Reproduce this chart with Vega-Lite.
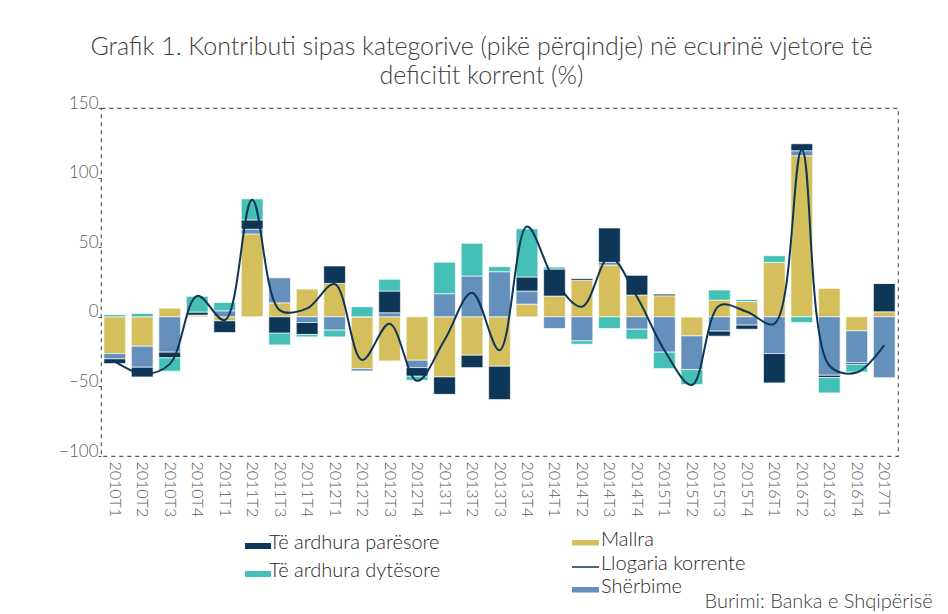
{
  "$schema": "https://vega.github.io/schema/vega-lite/v6.json",
  "width": 797,
  "height": 348,
  "autosize": {"type": "none"},
  "padding": {"left": 101, "top": 108, "right": 50, "bottom": 158},
  "background": "white",
  "config": {
    "font": "Lato",
    "view": {"stroke": "#595959", "strokeDash": [4, 4], "strokeWidth": 1.2},
    "axis": {"labelFont": "Lato", "titleFont": "Lato"},
    "legend": {"labelFont": "Lato"}
  },
  "title": {
    "text": ["Grafik 1. Kontributi sipas kategorive (pikë përqindje) në ecurinë vjetore të", "deficitit korrent (%)"],
    "font": "Lato",
    "fontSize": 25,
    "fontWeight": 300,
    "color": "#404040",
    "anchor": "middle",
    "dx": -18,
    "lineHeight": 29,
    "offset": 5
  },
  "datasets": {
    "bars": [
      {"q": "2010T1", "cat": "Mallra", "v": -26.4}, {"q": "2010T1", "cat": "Shërbime", "v": -3.8}, {"q": "2010T1", "cat": "Të ardhura parësore", "v": -3.4}, {"q": "2010T1", "cat": "Të ardhura dytësore", "v": 1.5},
      {"q": "2010T2", "cat": "Mallra", "v": -21.1}, {"q": "2010T2", "cat": "Shërbime", "v": -15.1}, {"q": "2010T2", "cat": "Të ardhura parësore", "v": -7.0}, {"q": "2010T2", "cat": "Të ardhura dytësore", "v": 2.4},
      {"q": "2010T3", "cat": "Mallra", "v": 6.2}, {"q": "2010T3", "cat": "Shërbime", "v": -25.4}, {"q": "2010T3", "cat": "Të ardhura parësore", "v": -4.1}, {"q": "2010T3", "cat": "Të ardhura dytësore", "v": -9.6},
      {"q": "2010T4", "cat": "Mallra", "v": 1.2}, {"q": "2010T4", "cat": "Shërbime", "v": 0}, {"q": "2010T4", "cat": "Të ardhura parësore", "v": 2.2}, {"q": "2010T4", "cat": "Të ardhura dytësore", "v": 11.3},
      {"q": "2011T1", "cat": "Mallra", "v": -2.9}, {"q": "2011T1", "cat": "Shërbime", "v": 4.3}, {"q": "2011T1", "cat": "Të ardhura parësore", "v": -8.4}, {"q": "2011T1", "cat": "Të ardhura dytësore", "v": 6.0},
      {"q": "2011T2", "cat": "Mallra", "v": 59.5}, {"q": "2011T2", "cat": "Shërbime", "v": 3.4}, {"q": "2011T2", "cat": "Të ardhura parësore", "v": 6.7}, {"q": "2011T2", "cat": "Të ardhura dytësore", "v": 15.1},
      {"q": "2011T3", "cat": "Mallra", "v": 10.0}, {"q": "2011T3", "cat": "Shërbime", "v": 18.0}, {"q": "2011T3", "cat": "Të ardhura parësore", "v": -11.8}, {"q": "2011T3", "cat": "Të ardhura dytësore", "v": -8.4},
      {"q": "2011T4", "cat": "Mallra", "v": 19.9}, {"q": "2011T4", "cat": "Shërbime", "v": -4.1}, {"q": "2011T4", "cat": "Të ardhura parësore", "v": -8.6}, {"q": "2011T4", "cat": "Të ardhura dytësore", "v": -1.7},
      {"q": "2012T1", "cat": "Mallra", "v": 24.0}, {"q": "2012T1", "cat": "Shërbime", "v": -9.6}, {"q": "2012T1", "cat": "Të ardhura parësore", "v": 12.5}, {"q": "2012T1", "cat": "Të ardhura dytësore", "v": -4.8},
      {"q": "2012T2", "cat": "Mallra", "v": -37.2}, {"q": "2012T2", "cat": "Shërbime", "v": -1.7}, {"q": "2012T2", "cat": "Të ardhura parësore", "v": 0}, {"q": "2012T2", "cat": "Të ardhura dytësore", "v": 7.2},
      {"q": "2012T3", "cat": "Mallra", "v": -31.7}, {"q": "2012T3", "cat": "Shërbime", "v": 2.9}, {"q": "2012T3", "cat": "Të ardhura parësore", "v": 15.6}, {"q": "2012T3", "cat": "Të ardhura dytësore", "v": 8.4},
      {"q": "2012T4", "cat": "Mallra", "v": -31.2}, {"q": "2012T4", "cat": "Shërbime", "v": -5.3}, {"q": "2012T4", "cat": "Të ardhura parësore", "v": -6.2}, {"q": "2012T4", "cat": "Të ardhura dytësore", "v": -2.9},
      {"q": "2013T1", "cat": "Mallra", "v": -43.2}, {"q": "2013T1", "cat": "Shërbime", "v": 16.6}, {"q": "2013T1", "cat": "Të ardhura parësore", "v": -12.5}, {"q": "2013T1", "cat": "Të ardhura dytësore", "v": 22.6},
      {"q": "2013T2", "cat": "Mallra", "v": -27.6}, {"q": "2013T2", "cat": "Shërbime", "v": 29.3}, {"q": "2013T2", "cat": "Të ardhura parësore", "v": -8.9}, {"q": "2013T2", "cat": "Të ardhura dytësore", "v": 23.5},
      {"q": "2013T3", "cat": "Mallra", "v": -35.5}, {"q": "2013T3", "cat": "Shërbime", "v": 32.4}, {"q": "2013T3", "cat": "Të ardhura parësore", "v": -24.0}, {"q": "2013T3", "cat": "Të ardhura dytësore", "v": 3.6},
      {"q": "2013T4", "cat": "Mallra", "v": 9.1}, {"q": "2013T4", "cat": "Shërbime", "v": 9.4}, {"q": "2013T4", "cat": "Të ardhura parësore", "v": 10.1}, {"q": "2013T4", "cat": "Të ardhura dytësore", "v": 34.6},
      {"q": "2014T1", "cat": "Mallra", "v": 14.9}, {"q": "2014T1", "cat": "Shërbime", "v": -8.4}, {"q": "2014T1", "cat": "Të ardhura parësore", "v": 19.4}, {"q": "2014T1", "cat": "Të ardhura dytësore", "v": 1.4},
      {"q": "2014T2", "cat": "Mallra", "v": 26.2}, {"q": "2014T2", "cat": "Shërbime", "v": -17.3}, {"q": "2014T2", "cat": "Të ardhura parësore", "v": 1.2}, {"q": "2014T2", "cat": "Të ardhura dytësore", "v": -2.4},
      {"q": "2014T3", "cat": "Mallra", "v": 37.2}, {"q": "2014T3", "cat": "Shërbime", "v": 1.9}, {"q": "2014T3", "cat": "Të ardhura parësore", "v": 24.7}, {"q": "2014T3", "cat": "Të ardhura dytësore", "v": -8.4},
      {"q": "2014T4", "cat": "Mallra", "v": 15.6}, {"q": "2014T4", "cat": "Shërbime", "v": -8.9}, {"q": "2014T4", "cat": "Të ardhura parësore", "v": 14.2}, {"q": "2014T4", "cat": "Të ardhura dytësore", "v": -7.2},
      {"q": "2015T1", "cat": "Mallra", "v": 15.1}, {"q": "2015T1", "cat": "Shërbime", "v": -25.4}, {"q": "2015T1", "cat": "Të ardhura parësore", "v": 1.2}, {"q": "2015T1", "cat": "Të ardhura dytësore", "v": -11.8},
      {"q": "2015T2", "cat": "Mallra", "v": -13.7}, {"q": "2015T2", "cat": "Shërbime", "v": -24.2}, {"q": "2015T2", "cat": "Të ardhura parësore", "v": 0}, {"q": "2015T2", "cat": "Të ardhura dytësore", "v": -10.8},
      {"q": "2015T3", "cat": "Mallra", "v": 12.0}, {"q": "2015T3", "cat": "Shërbime", "v": -10.3}, {"q": "2015T3", "cat": "Të ardhura parësore", "v": -3.6}, {"q": "2015T3", "cat": "Të ardhura dytësore", "v": 7.2},
      {"q": "2015T4", "cat": "Mallra", "v": 11.0}, {"q": "2015T4", "cat": "Shërbime", "v": -6.0}, {"q": "2015T4", "cat": "Të ardhura parësore", "v": -2.9}, {"q": "2015T4", "cat": "Të ardhura dytësore", "v": 1.4},
      {"q": "2016T1", "cat": "Mallra", "v": 39.1}, {"q": "2016T1", "cat": "Shërbime", "v": -26.4}, {"q": "2016T1", "cat": "Të ardhura parësore", "v": -21.1}, {"q": "2016T1", "cat": "Të ardhura dytësore", "v": 4.8},
      {"q": "2016T2", "cat": "Mallra", "v": 115.7}, {"q": "2016T2", "cat": "Shërbime", "v": 3.6}, {"q": "2016T2", "cat": "Të ardhura parësore", "v": 5.0}, {"q": "2016T2", "cat": "Të ardhura dytësore", "v": -4.1},
      {"q": "2016T3", "cat": "Mallra", "v": 20.4}, {"q": "2016T3", "cat": "Shërbime", "v": -42.0}, {"q": "2016T3", "cat": "Të ardhura parësore", "v": -1.7}, {"q": "2016T3", "cat": "Të ardhura dytësore", "v": -11.0},
      {"q": "2016T4", "cat": "Mallra", "v": -10.1}, {"q": "2016T4", "cat": "Shërbime", "v": -22.8}, {"q": "2016T4", "cat": "Të ardhura parësore", "v": -1.2}, {"q": "2016T4", "cat": "Të ardhura dytësore", "v": -5.5},
      {"q": "2017T1", "cat": "Mallra", "v": 3.6}, {"q": "2017T1", "cat": "Shërbime", "v": -43.7}, {"q": "2017T1", "cat": "Të ardhura parësore", "v": 20.4}, {"q": "2017T1", "cat": "Të ardhura dytësore", "v": 0}
    ],
    "line": [
      {"q": "2010T1", "v": -32}, {"q": "2010T2", "v": -41}, {"q": "2010T3", "v": -34}, {"q": "2010T4", "v": 15},
      {"q": "2011T1", "v": -2.4}, {"q": "2011T2", "v": 84}, {"q": "2011T3", "v": 4.8}, {"q": "2011T4", "v": 6},
      {"q": "2012T1", "v": 23.5}, {"q": "2012T2", "v": -31}, {"q": "2012T3", "v": -5}, {"q": "2012T4", "v": -46},
      {"q": "2013T1", "v": -16.7}, {"q": "2013T2", "v": 17.3}, {"q": "2013T3", "v": -24}, {"q": "2013T4", "v": 64.8},
      {"q": "2014T1", "v": 26.4}, {"q": "2014T2", "v": 7.2}, {"q": "2014T3", "v": 43}, {"q": "2014T4", "v": 14.4},
      {"q": "2015T1", "v": -24}, {"q": "2015T2", "v": -49}, {"q": "2015T3", "v": 8}, {"q": "2015T4", "v": 3.6},
      {"q": "2016T1", "v": -5}, {"q": "2016T2", "v": 120}, {"q": "2016T3", "v": -35}, {"q": "2016T4", "v": -40},
      {"q": "2017T1", "v": -20.4}
    ]
  },
  "encoding": {
    "x": {
      "field": "q",
      "type": "ordinal",
      "scale": {"paddingInner": 0.21, "paddingOuter": 0.105},
      "axis": {
        "title": "Burimi: Banka e Shqipërisë",
        "titleX": 603,
        "titleY": 151,
        "titleAlign": "left",
        "titleAnchor": "start",
        "titleBaseline": "alphabetic",
        "titleFontSize": 20,
        "titleFontWeight": 300,
        "titleColor": "#404040",
        "titleLimit": 1000,
        "labelAngle": 90,
        "labelFontSize": 16,
        "labelFontWeight": 300,
        "labelColor": "#595959",
        "labelPadding": 5,
        "ticks": false,
        "domain": false
      }
    }
  },
  "layer": [
    {
      "data": {"name": "bars"},
      "transform": [
        {"calculate": "indexof(['Mallra', 'Shërbime', 'Të ardhura parësore', 'Të ardhura dytësore'], datum.cat)", "as": "ord"}
      ],
      "mark": {"type": "bar", "stroke": "white", "strokeWidth": 0.8, "strokeOpacity": 0.8},
      "encoding": {
        "y": {
          "field": "v",
          "type": "quantitative",
          "stack": "zero",
          "scale": {"domain": [-100, 150], "nice": false, "zero": false},
          "axis": {
            "title": null,
            "values": [-100, -50, 0, 50, 100, 150],
            "grid": false,
            "domain": false,
            "tickSize": 3,
            "tickColor": "#595959",
            "labelPadding": 0,
            "labelBaseline": "alphabetic",
            "labelFontSize": 17,
            "labelFontWeight": 300,
            "labelColor": "#595959"
          }
        },
        "order": {"field": "ord", "type": "quantitative", "sort": "ascending"},
        "fill": {
          "field": "cat",
          "type": "nominal",
          "scale": {
            "domain": ["Mallra", "Shërbime", "Të ardhura parësore", "Të ardhura dytësore"],
            "range": ["#D4BF5C", "#6590BB", "#0E3657", "#45C0B6"]
          },
          "legend": {
            "title": null,
            "orient": "none",
            "legendX": 139,
            "legendY": 425,
            "values": ["Të ardhura parësore", "Të ardhura dytësore"],
            "symbolType": "M-1,0H4.2V1.2H-1Z",
            "symbolSize": 100,
            "symbolStrokeWidth": 0,
            "labelOffset": 9,
            "labelLimit": 400,
            "labelFontSize": 20,
            "labelFontWeight": 300,
            "labelColor": "#262626",
            "rowPadding": 8,
            "padding": 0
          }
        }
      }
    },
    {
      "mark": {"type": "rule", "stroke": "#595959", "strokeDash": [5, 4], "strokeWidth": 1.5},
      "encoding": {"y": {"datum": 0, "type": "quantitative"}}
    },
    {
      "data": {"name": "line"},
      "mark": {"type": "line", "interpolate": "catmull-rom", "strokeWidth": 2},
      "encoding": {
        "y": {"field": "v", "type": "quantitative"},
        "stroke": {
          "datum": "Llogaria korrente",
          "type": "nominal",
          "scale": {
            "domain": ["Mallra", "Llogaria korrente", "Shërbime"],
            "range": ["#D4BF5C", "#0E3657", "#6590BB"]
          },
          "legend": {
            "title": null,
            "orient": "none",
            "legendX": 466,
            "legendY": 422,
            "symbolSize": 100,
            "labelOffset": 14,
            "labelLimit": 400,
            "labelFontSize": 20,
            "labelFontWeight": 300,
            "labelColor": "#262626",
            "rowPadding": 3.5,
            "padding": 0,
            "encode": {
              "symbols": {
                "update": {
                  "shape": {"signal": "datum.value === 'Llogaria korrente' ? 'M-1,0.7H4.4' : 'M-1,0H4.4V1.1H-1Z'"},
                  "fill": {"signal": "datum.value === 'Mallra' ? '#D4BF5C' : datum.value === 'Shërbime' ? '#6590BB' : 'transparent'"},
                  "stroke": {"signal": "datum.value === 'Llogaria korrente' ? '#0E3657' : 'transparent'"},
                  "strokeWidth": {"signal": "datum.value === 'Llogaria korrente' ? 1.5 : 0"},
                  "opacity": {"value": 1}
                }
              }
            }
          }
        }
      }
    }
  ]
}
